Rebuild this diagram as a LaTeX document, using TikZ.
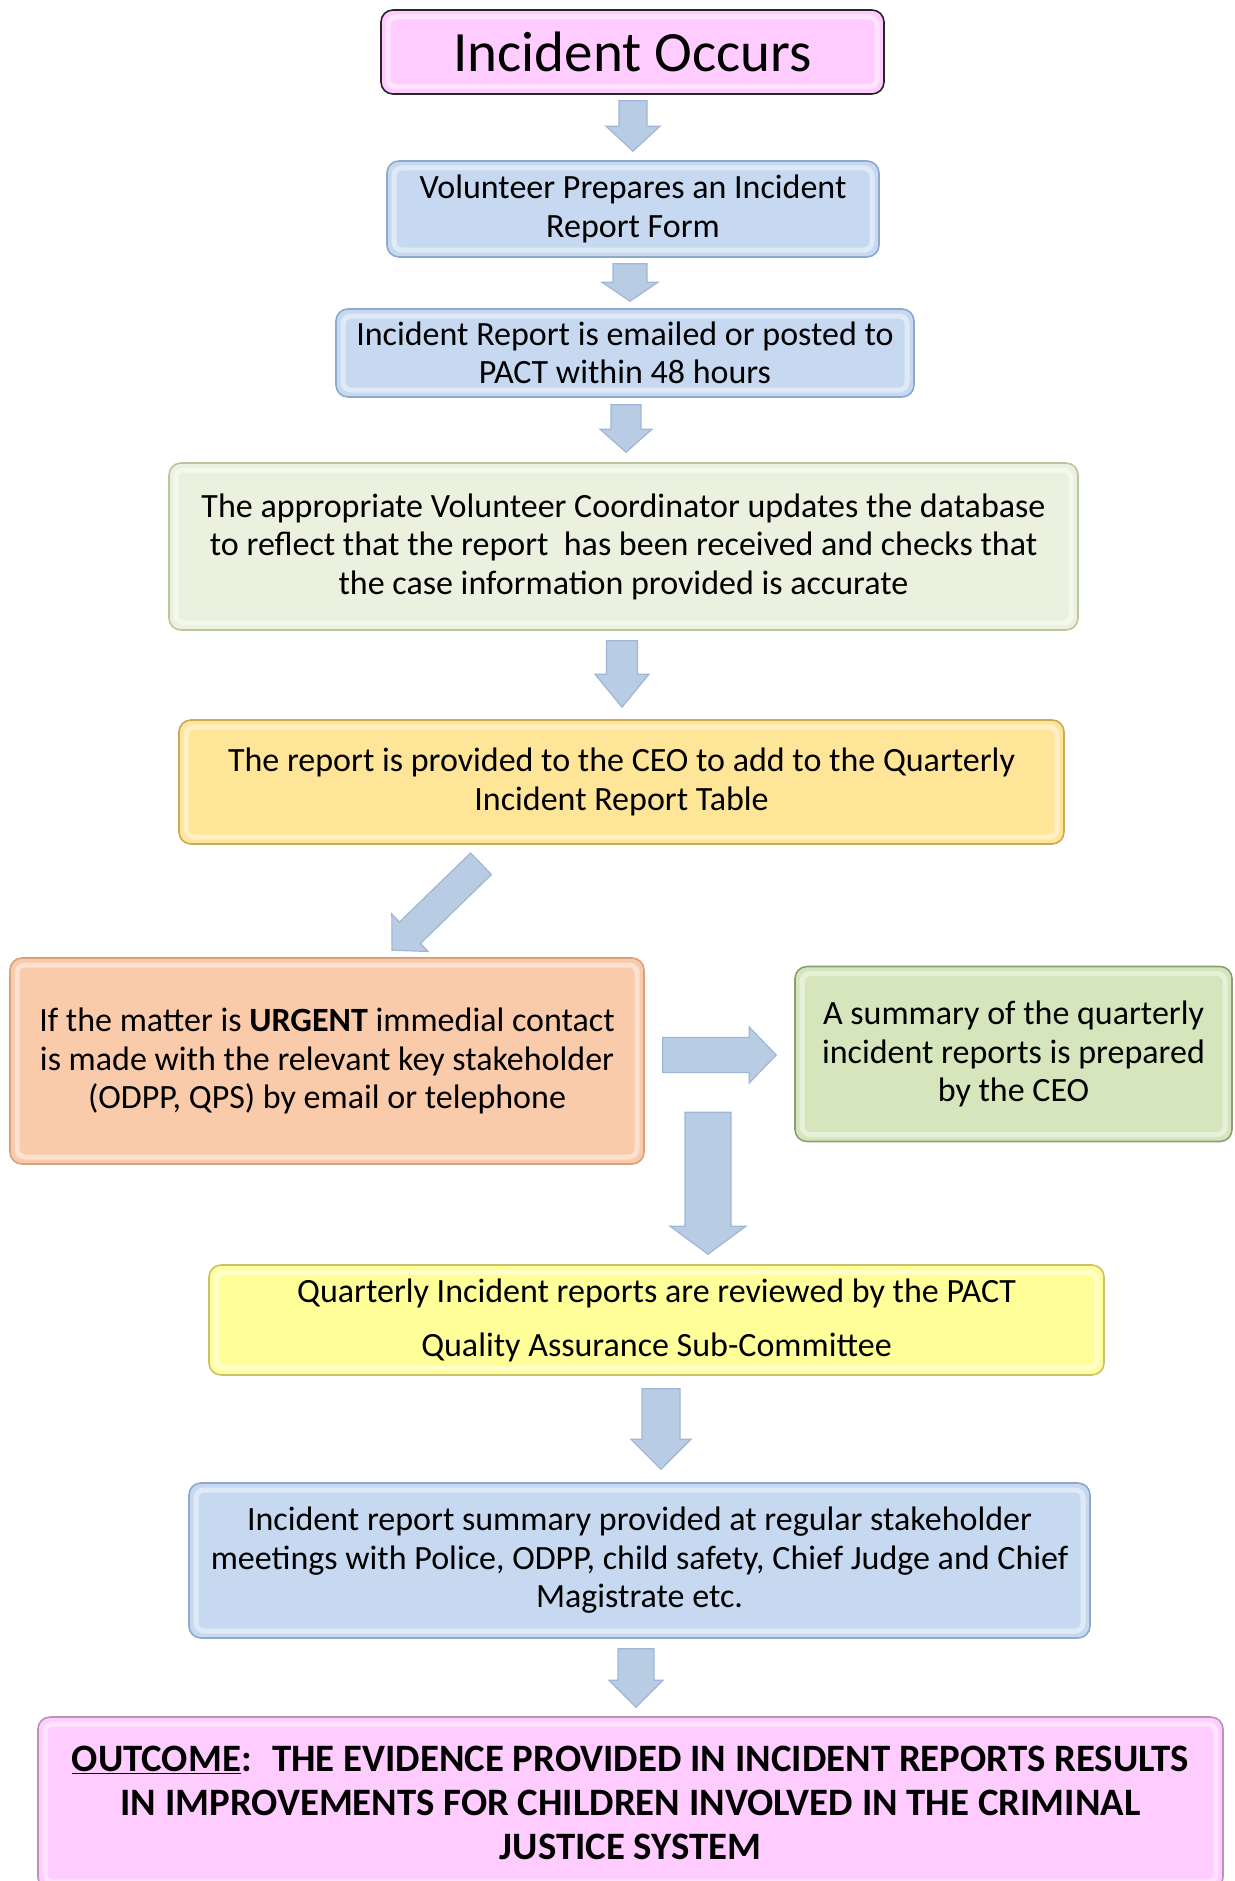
\documentclass[tikz,border=0pt]{standalone}
\usepackage{fontspec}
\setmainfont{Carlito}
\usetikzlibrary{calc}
\definecolor{pinkF}{HTML}{FFCCFF}
\definecolor{pinkD}{HTML}{B894B8}
\definecolor{blueF}{HTML}{C6D9F1}
\definecolor{blueD}{HTML}{8DA9CC}
\definecolor{lgreenF}{HTML}{EBF1DE}
\definecolor{lgreenD}{HTML}{B8C7A0}
\definecolor{goldF}{HTML}{FFE597}
\definecolor{goldD}{HTML}{C9A95A}
\definecolor{orangeF}{HTML}{F9CBAA}
\definecolor{orangeD}{HTML}{D9A17E}
\definecolor{greenF}{HTML}{D5E6BD}
\definecolor{greenD}{HTML}{8A9F75}
\definecolor{yellowF}{HTML}{FFFF99}
\definecolor{yellowD}{HTML}{C9C26C}
\definecolor{arrF}{HTML}{B8CCE4}
\definecolor{arrD}{HTML}{9FB7D6}
\newcommand\blockarrow[5]{%
  \coordinate (bah) at ($(#2)!#5!(#1)$);
  \draw[arrowsty] ($(#1)!#3!90:(#2)$) -- ($(bah)!#3!90:(#2)$) -- ($(bah)!#4!90:(#2)$) -- (#2)
    -- ($(bah)!#4!-90:(#2)$) -- ($(bah)!#3!-90:(#2)$) -- ($(#1)!#3!-90:(#2)$) -- cycle;
}
\tikzset{
  box/.style={rectangle, rounded corners=12pt, line width=1.6pt, inner sep=0pt, align=center,
    font=\fontsize{34}{38.5}\selectfont,
    path picture={\draw[white, opacity=.45, line width=5pt, rounded corners=8pt]
      ([shift={(7pt,7pt)}]path picture bounding box.south west) rectangle
      ([shift={(-7pt,-7pt)}]path picture bounding box.north east);}},
  arrowsty/.style={fill=arrF, draw=arrD, line width=1.2pt, line join=miter},
}
\begin{document}
\begin{tikzpicture}[x=1pt,y=-1pt]
\useasboundingbox (0,0) rectangle (1234,1881);
\clip (0,0) rectangle (1234,1881);
\fill[white] (0,0) rectangle (1234,1881);

\node[box, fill=pinkF, draw=black!85, minimum width=503pt, minimum height=84pt,
  font=\fontsize{57}{64}\selectfont] (n1) at (632.5,52) {Incident Occurs};
\node[box, fill=blueF, draw=blueD, minimum width=492pt, minimum height=96pt] (n2) at (633,209)
  {Volunteer Prepares an Incident\\Report Form};
\node[box, fill=blueF, draw=blueD, minimum width=578pt, minimum height=88pt] (n3) at (625,353)
  {Incident Report is emailed or posted to\\PACT within 48 hours};
\node[box, fill=lgreenF, draw=lgreenD, minimum width=909pt, minimum height=167pt] (n4) at (623.5,546.5)
  {The appropriate Volunteer Coordinator updates the database\\to reflect that the report~ has been received and checks that\\the case information provided is accurate};
\node[box, fill=goldF, draw=goldD, minimum width=885pt, minimum height=124pt] (n5) at (621.5,782)
  {The report is provided to the CEO to add to the Quarterly\\Incident Report Table};
\node[box, fill=orangeF, draw=orangeD, minimum width=634pt, minimum height=206pt] (n6) at (327,1061)
  {If the matter is \textbf{URGENT} immedial contact\\is made with the relevant key stakeholder\\(ODPP, QPS) by email or telephone};
\node[box, fill=greenF, draw=greenD, minimum width=437pt, minimum height=175pt] (n7) at (1013.5,1054)
  {A summary of the quarterly\\incident reports is prepared\\by the CEO};
\node[box, fill=yellowF, draw=yellowD, minimum width=895pt, minimum height=110pt,
  font=\fontsize{34}{54}\selectfont] (n8) at (656.5,1320)
  {Quarterly Incident reports are reviewed by the PACT\\Quality Assurance Sub-Committee};
\node[box, fill=blueF, draw=blueD, minimum width=901pt, minimum height=155pt] (n9) at (639.5,1560.5)
  {Incident report summary provided at regular stakeholder\\meetings with Police, ODPP, child safety, Chief Judge and Chief\\Magistrate etc.};
\node[box, fill=pinkF, draw=pinkD, minimum width=1185pt, minimum height=172pt,
  font=\fontsize{38.8}{44}\selectfont\bfseries] (n10) at (630.5,1803)
  {\underline{OUTCOME}:~ THE EVIDENCE PROVIDED IN INCIDENT REPORTS RESULTS\\IN IMPROVEMENTS FOR CHILDREN INVOLVED IN THE CRIMINAL\\JUSTICE SYSTEM};

% arrows
\coordinate (a1t) at ($(n1.south)+(0.5,6)$);
\coordinate (a1h) at ($(a1t |- n2.north)+(0,-9)$);
\blockarrow{a1t}{a1h}{14pt}{27pt}{25pt}
\coordinate (a2t) at ($(n2.south)+(-3,6)$);
\coordinate (a2h) at ($(a2t |- n3.north)+(0,-7)$);
\blockarrow{a2t}{a2h}{17pt}{28pt}{19pt}
\coordinate (a3t) at ($(n3.south)+(1,7)$);
\coordinate (a3h) at ($(a3t |- n4.north)+(0,-10)$);
\blockarrow{a3t}{a3h}{15pt}{26pt}{23pt}
\coordinate (a4t) at ($(n4.south)+(-1.5,10)$);
\coordinate (a4h) at ($(a4t |- n5.north)+(0,-12)$);
\blockarrow{a4t}{a4h}{15.5pt}{27pt}{33pt}
\coordinate (a5t) at ($(n5.south)+(-140.5,19)$);
\coordinate (a5h) at ($(n6.north)+(65,-7)$);
\blockarrow{a5t}{a5h}{15pt}{26pt}{25pt}
\coordinate (a6t) at ($(n6.east)+(18,-6)$);
\coordinate (a6h) at ($(a6t -| n7.west)+(-18,0)$);
\blockarrow{a6t}{a6h}{17.5pt}{28pt}{27pt}
\coordinate (a7h) at ($(n8.north)+(51.5,-10)$);
\coordinate (a7t) at ($(a7h)+(0,-142)$);
\blockarrow{a7t}{a7h}{23pt}{38pt}{28pt}
\coordinate (a8t) at ($(n8.south)+(4.5,13)$);
\coordinate (a8h) at ($(a8t |- n9.north)+(0,-13)$);
\blockarrow{a8t}{a8h}{19pt}{30pt}{30pt}
\coordinate (a9t) at ($(n9.south)+(-3.5,10)$);
\coordinate (a9h) at ($(a9t |- n10.north)+(0,-9)$);
\blockarrow{a9t}{a9h}{18pt}{27pt}{27pt}
\end{tikzpicture}
\end{document}
